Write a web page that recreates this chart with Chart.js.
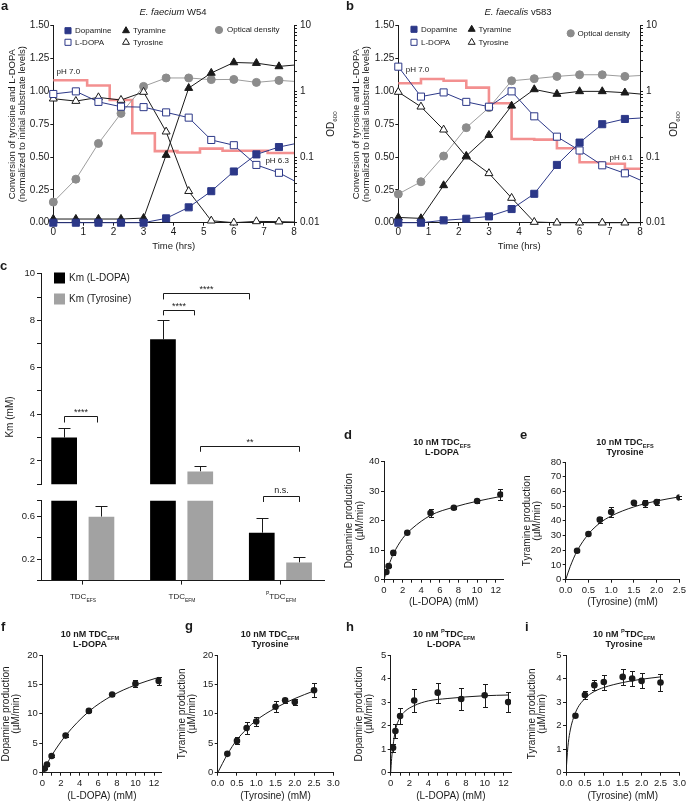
<!DOCTYPE html>
<html>
<head>
<meta charset="utf-8">
<title>TDC activity and kinetics</title>
<script src="https://cdn.jsdelivr.net/npm/chart.js@4.4.1/dist/chart.umd.min.js"></script>
<style>
  html, body { margin: 0; padding: 0; background: #fff; }
  #fig { position: relative; width: 688px; height: 803px; overflow: hidden;
         font-family: 'Liberation Sans', Arial, sans-serif; color: #1a1a1a; }
  .box { position: absolute; }
  .box canvas { display: block; }
  .txt { position: absolute; white-space: nowrap; line-height: 1; transform: translate(-50%, -50%); }
  .up { transform: translate(-50%, -50%) rotate(-90deg); }
  .let { position: absolute; font-weight: bold; font-size: 13px; line-height: 1; }
  .ttl { position: absolute; transform: translateX(-50%); text-align: center; font-weight: bold;
         font-size: 9px; line-height: 10px; white-space: nowrap; }
  sub, sup { font-size: 62%; line-height: 0; }
</style>
</head>
<body>
<div id="fig"></div>
<script>
const FONT = "'Liberation Sans', Arial, sans-serif";
const INK = '#1a1a1a';
const NAVY = '#2c3888';
const OD_GREY = '#8c8c8c';
const PH_RED = '#f39090';
const BAR_GREY = '#a2a2a2';

Chart.defaults.font.family = FONT;
Chart.defaults.color = INK;
Chart.defaults.animation = false;
Chart.defaults.plugins.legend.display = false;
Chart.defaults.plugins.tooltip.enabled = false;

// ---------- a / b: growth and conversion over time ----------
// last sample (8.25 h) lies past the 8 h axis end and is clipped
const timeHrs = [0, 0.75, 1.5, 2.25, 3, 3.75, 4.5, 5.25, 6, 6.75, 7.5, 8.25];

const dopamineW54 = [0, 0, 0, 0, 0, 0.033, 0.117, 0.24, 0.39, 0.52, 0.576, 0.612];
const ldopaW54 = [0.98, 1.0, 0.92, 0.883, 0.88, 0.84, 0.80, 0.63, 0.59, 0.44, 0.38, 0.29];
const tyramineW54 = [0.028, 0.028, 0.028, 0.028, 0.035, 0.515, 1.025, 1.14, 1.22, 1.215, 1.19, 1.205];
const tyrosineW54 = [0.944, 0.926, 0.954, 0.934, 0.995, 0.693, 0.24, 0.015, 0, 0.01, 0.008, 0.004];
const odW54 = [0.0206, 0.046, 0.161, 0.462, 1.19, 1.60, 1.60, 1.51, 1.52, 1.37, 1.47, 1.395];
const phTimeW54 = [0, 1.125, 1.875, 2.625, 3.375, 4.125, 4.875, 5.625, 7.125, 8];
const phW54 = [7.0, 6.95, 6.81, 6.49, 6.318, 6.305, 6.342, 6.322, 6.30, 6.30];

const dopamineV583 = [0, 0, 0.018, 0.03, 0.048, 0.104, 0.22, 0.44, 0.61, 0.75, 0.79, 0.80];
const ldopaV583 = [1.188, 0.96, 0.992, 0.92, 0.883, 1.0, 0.81, 0.655, 0.55, 0.437, 0.376, 0.30];
const tyramineV583 = [0.04, 0.033, 0.284, 0.508, 0.667, 0.89, 1.015, 0.98, 1.0, 1.0, 0.99, 0.975];
const tyrosineV583 = [0.995, 0.883, 0.708, 0.503, 0.376, 0.188, 0.005, 0, 0, 0, 0, 0];
const odV583 = [0.0273, 0.042, 0.1035, 0.28, 0.564, 1.45, 1.56, 1.69, 1.79, 1.79, 1.69, 1.77];
const phTimeV583 = [0, 0.75, 1.5, 2.25, 3, 3.75, 4.5, 5.25, 6, 6.75, 7.5, 8];
const phV583 = [7.0, 7.045, 7.027, 6.954, 6.789, 6.413, 6.406, 6.315, 6.168, 6.153, 6.10, 6.10];

const convTicks = [0, 0.25, 0.5, 0.75, 1, 1.25, 1.5];
const hourTicks = [0, 1, 2, 3, 4, 5, 6, 7, 8];

// ---------- c: Km values ----------
const strains = ['TDC_EFS', 'TDC_EFM', 'PTDC_EFM'];
const kmLdopa = [3.0, 7.2, 0.45];
const kmLdopaSd = [0.4, 0.8, 0.14];
const kmTyrosine = [0.6, 1.55, 0.17];
const kmTyrosineSd = [0.1, 0.25, 0.047];
const kmHighTicks = [1, 2, 3, 4, 5, 6, 7, 8, 9, 10];
const kmLowTicks = [0, 0.2, 0.4, 0.6, 0.75];

// ---------- d-i: Michaelis-Menten kinetics ----------
const ldopaMM = [0.25, 0.5, 1, 2.5, 5, 7.5, 10, 12.5];
const tyrosineMM = [0.25, 0.5, 0.75, 1, 1.5, 1.75, 2, 2.5];

const efsDopamine = [2.6, 4.6, 9.1, 15.9, 22.6, 24.4, 26.7, 28.9];
const efsDopamineSd = [0.3, 0.4, 0.8, 0.4, 1.2, 0.5, 0.8, 2.0];
const efsDopamineFitX = [0, 0.25, 0.5, 1, 2, 3, 5, 7.5, 10, 12.5];
const efsDopamineFitY = [0, 2.6, 4.8, 8.7, 14.0, 17.3, 21.8, 24.6, 26.6, 28.2];

const efsTyramine = [19.7, 31.1, 40.8, 46.0, 52.3, 51.9, 52.8, 55.8];
const efsTyramineSd = [1.0, 0.8, 2.0, 3.1, 1.3, 2.4, 2.0, 1.0];
const efsTyramineFitX = [0, 0.1, 0.25, 0.5, 0.75, 1, 1.5, 2, 2.5];
const efsTyramineFitY = [0, 9, 19.5, 31, 38.5, 43.3, 49.5, 53.5, 56.3];

const efmDopamine = [0.7, 1.4, 2.83, 6.3, 10.5, 13.3, 15.1, 15.6];
const efmDopamineSd = [0.15, 0.2, 0.2, 0.2, 0.2, 0.2, 0.6, 0.7];
const efmDopamineFitX = [0, 0.25, 0.5, 1, 2.5, 5, 7.5, 10, 12.5];
const efmDopamineFitY = [0, 0.75, 1.5, 2.9, 6.3, 10.4, 13.1, 14.9, 16.2];

const efmTyramine = [3.2, 5.4, 7.6, 8.7, 11.2, 12.3, 12.0, 14.0];
const efmTyramineSd = [0.2, 0.6, 1.0, 0.8, 0.9, 0.4, 0.5, 1.2];
const efmTyramineFitX = [0, 0.25, 0.5, 0.75, 1, 1.5, 2, 2.5];
const efmTyramineFitY = [0, 3.1, 5.6, 7.4, 8.9, 11.0, 12.6, 13.9];

const pefmDopamine = [1.06, 1.77, 2.41, 3.07, 3.4, 3.13, 3.29, 3.0];
const pefmDopamineSd = [0.18, 0.3, 0.32, 0.5, 0.42, 0.48, 0.48, 0.42];
const pefmDopamineFitX = [0, 0.1, 0.25, 0.5, 1, 1.5, 2.5, 4, 6, 8, 10, 12.5];
const pefmDopamineFitY = [0, 0.6, 1.15, 1.8, 2.35, 2.6, 2.85, 3.05, 3.15, 3.22, 3.27, 3.3];

const pefmTyramine = [2.42, 3.3, 3.72, 3.85, 4.07, 4.0, 3.9, 3.83];
const pefmTyramineSd = [0.05, 0.15, 0.22, 0.32, 0.33, 0.3, 0.32, 0.35];
const pefmTyramineFitX = [0, 0.05, 0.1, 0.25, 0.5, 0.75, 1, 1.5, 2, 2.5];
const pefmTyramineFitY = [0, 1.1, 1.7, 2.55, 3.15, 3.45, 3.62, 3.83, 3.97, 4.07];

// ---------- helpers ----------
const fig = document.getElementById('fig');

function makeCanvas(box) {
  const d = document.createElement('div');
  d.className = 'box';
  d.style.cssText = `left:${box.left}px;top:${box.top}px;width:${box.width}px;height:${box.height}px`;
  const c = document.createElement('canvas');
  c.width = box.width; c.height = box.height;
  c.style.width = box.width + 'px'; c.style.height = box.height + 'px';
  d.appendChild(c);
  fig.appendChild(d);
  return c;
}

function addText(html, x, y, cls, size) {
  const el = document.createElement('div');
  el.className = cls;
  el.innerHTML = html;
  el.style.left = x + 'px';
  el.style.top = y + 'px';
  if (size) el.style.fontSize = size + 'px';
  fig.appendChild(el);
}

const xy = (xs, ys) => xs.map((x, i) => ({ x, y: ys[i] }));
const range = (a, b, s) => { const r = []; for (let v = a; v <= b + 1e-9; v += s) r.push(+v.toFixed(4)); return r; };

function axis(o) {
  const s = {
    type: o.type || 'linear',
    position: o.pos,
    min: o.min, max: o.max,
    offset: false,
    grid: { drawOnChartArea: false, drawTicks: true, tickLength: o.tickLen || 3, color: INK, lineWidth: 1, offset: false },
    border: { display: true, color: INK, width: 1 },
    ticks: { color: INK, font: { size: o.font || 10 }, padding: o.tickPad ?? 1, autoSkip: false, maxRotation: 0, minRotation: 0 },
    afterBuildTicks: sc => { sc.ticks = o.ticks.map(v => ({ value: v })); },
    afterFit: sc => { if (sc.isHorizontal()) sc.height = o.size; else sc.width = o.size; },
  };
  if (o.cb) s.ticks.callback = o.cb;
  if (o.title) {
    s.title = { display: true, text: o.title, color: INK,
      font: { size: o.titleSize || 10, lineHeight: o.titleLH || 1.1 }, padding: o.titlePad || 0 };
  }
  return s;
}

// error bars drawn from the dataset's own errors array, in scale units
const errorBars = {
  id: 'errorBars',
  beforeDatasetsDraw(chart) {
    const ctx = chart.ctx, area = chart.chartArea;
    chart.data.datasets.forEach((ds, di) => {
      if (!ds.errors) return;
      const meta = chart.getDatasetMeta(di);
      const ys = chart.scales[meta.yAxisID];
      const slack = ds.errSlack ?? 6;
      ctx.save();
      ctx.beginPath();
      ctx.rect(area.left - 10, area.top - slack, area.right - area.left + 20, area.bottom - area.top + 2 * slack);
      ctx.clip();
      ctx.strokeStyle = INK; ctx.lineWidth = 1;
      meta.data.forEach((el, i) => {
        const v = ds.data[i].y, e = ds.errors[i];
        const top = Math.round(ys.getPixelForValue(v + e)) + 0.5;
        const bot = ds.errUpOnly ? ys.getPixelForValue(v) : Math.round(ys.getPixelForValue(v - e)) + 0.5;
        const x = Math.round(el.x) + 0.5, h = ds.capHalf ?? 2.5;
        ctx.beginPath();
        ctx.moveTo(x, bot); ctx.lineTo(x, top);
        ctx.moveTo(x - h, top); ctx.lineTo(x + h, top);
        if (!ds.errUpOnly) { ctx.moveTo(x - h, bot); ctx.lineTo(x + h, bot); }
        ctx.stroke();
      });
      ctx.restore();
    });
  }
};

function logLabel(v) {
  const l = Math.log10(v);
  if (Math.abs(l - Math.round(l)) > 1e-9) return '';
  return v >= 1 ? String(Math.round(v)) : v.toFixed(-Math.round(l));
}
const odTicks = [];
for (let e = -2; e <= 0; e++) for (let m = 1; m <= 9; m++) odTicks.push(+(m * Math.pow(10, e)).toFixed(4));
odTicks.push(10);

// ---------- panels a and b ----------
function growthPanel(o) {
  const b = o.box, a = o.area;
  const cv = makeCanvas(b);
  const clip = { left: 8, top: 8, right: 0, bottom: 8 };
  const radii = r => timeHrs.map(t => (t > 8 ? 0 : r));
  const series = (label, ys, line, fill, style, r, yAxisID) => ({
    label, data: xy(timeHrs, ys), yAxisID: yAxisID || 'y',
    borderColor: line, borderWidth: 1, pointStyle: style, pointRadius: radii(r),
    pointBackgroundColor: fill, pointBorderColor: line, pointBorderWidth: 1, clip,
  });
  const od = series('Optical density', o.od, '#9d9d9d', OD_GREY, 'circle', 4, 'od');
  od.pointBorderColor = OD_GREY;
  const datasets = [
    series('Dopamine', o.dopamine, NAVY, NAVY, 'rect', 5),
    series('L-DOPA', o.ldopa, NAVY, '#fff', 'rect', 5),
    series('Tyramine', o.tyramine, INK, INK, 'triangle', 4.6),
    series('Tyrosine', o.tyrosine, INK, '#fff', 'triangle', 4.6),
    od,
    { label: 'pH', data: xy(o.phTime, o.ph), yAxisID: 'ph', stepped: true, borderColor: PH_RED,
      borderWidth: 2.6, pointRadius: 0, clip },
  ];
  const deco = {
    id: 'growthDeco',
    afterDraw(chart) {
      const ctx = chart.ctx;
      ctx.save();
      ctx.font = `8px ${FONT}`;
      ctx.textBaseline = 'middle';
      o.legend.forEach(p => {
        const ds = chart.data.datasets[p.ds];
        ctx.fillStyle = ds.pointBackgroundColor;
        ctx.strokeStyle = ds.pointBorderColor;
        ctx.lineWidth = 1;
        Chart.helpers.drawPoint(ctx, { pointStyle: ds.pointStyle, radius: p.r, borderWidth: 1, rotation: 0 }, p.x, p.y);
        ctx.fillStyle = INK;
        ctx.fillText(ds.label, p.tx, p.y);
      });
      o.phLabels.forEach(p => {
        ctx.fillStyle = INK;
        ctx.fillText(p.txt, chart.scales.x.getPixelForValue(p.t), chart.scales.ph.getPixelForValue(p.v));
      });
      ctx.restore();
    }
  };
  new Chart(cv, {
    type: 'line',
    data: { datasets },
    options: {
      responsive: false,
      layout: { padding: { left: 0, top: a.t - b.top, right: 0, bottom: 0 } },
      scales: {
        x: axis({ pos: 'bottom', min: 0, max: 8, ticks: hourTicks, size: b.top + b.height - a.b,
          cb: v => String(v), title: 'Time (hrs)', titleSize: 9.5, titlePad: { top: 0, bottom: 10.5 } }),
        y: axis({ pos: 'left', min: 0, max: 1.5, ticks: convTicks, size: a.l - b.left, cb: v => v.toFixed(2),
          title: ['Conversion of tyrosine and L-DOPA', '(normalized to initial substrate levels)'],
          titleSize: 9.5, titleLH: 1.08, titlePad: { top: 7, bottom: 0 } }),
        od: axis({ type: 'logarithmic', pos: 'right', min: 0.01, max: 10, ticks: odTicks,
          size: b.left + b.width - a.r, cb: logLabel, tickPad: 3 }),
        ph: { type: 'linear', display: false, min: o.phMin, max: o.phMax },
      },
    },
    plugins: [deco],
  });
}

growthPanel({
  box: { left: 0, top: 0, width: 344, height: 262 },
  area: { l: 53.3, t: 25.7, r: 294, b: 222.7 },
  dopamine: dopamineW54, ldopa: ldopaW54, tyramine: tyramineW54, tyrosine: tyrosineW54, od: odW54,
  phTime: phTimeW54, ph: phW54, phMin: 5.629, phMax: 7.526,
  legend: [
    { ds: 0, x: 68, y: 30.7, tx: 75, r: 4.3 }, { ds: 1, x: 68, y: 42.3, tx: 75, r: 4.3 },
    { ds: 2, x: 126, y: 30.7, tx: 133, r: 4 }, { ds: 3, x: 126, y: 42.3, tx: 133, r: 4 },
    { ds: 4, x: 219, y: 30, tx: 227, r: 3.6 },
  ],
  phLabels: [{ txt: 'pH 7.0', t: 0.11, v: 7.083 }, { txt: 'pH 6.3', t: 7.05, v: 6.226 }],
});

growthPanel({
  box: { left: 344, top: 0, width: 344, height: 262 },
  area: { l: 398.3, t: 25.7, r: 640, b: 222.7 },
  dopamine: dopamineV583, ldopa: ldopaV583, tyramine: tyramineV583, tyrosine: tyrosineV583, od: odV583,
  phTime: phTimeV583, ph: phV583, phMin: 5.531, phMax: 7.607,
  legend: [
    { ds: 0, x: 70, y: 29.3, tx: 77, r: 4.3 }, { ds: 1, x: 70, y: 42.3, tx: 77, r: 4.3 },
    { ds: 2, x: 127.7, y: 29.3, tx: 134.5, r: 4 }, { ds: 3, x: 127.7, y: 42.3, tx: 134.5, r: 4 },
    { ds: 4, x: 226.7, y: 33.3, tx: 233.5, r: 3.6 },
  ],
  phLabels: [{ txt: 'pH 7.0', t: 0.245, v: 7.147 }, { txt: 'pH 6.1', t: 6.99, v: 6.21 }],
});

// ---------- panel c (broken y axis: two stacked charts) ----------
const groupPos = strains.map((_, i) => i);
const barSet = (label, vals, sd, color) => ({
  label, data: xy(groupPos, vals), backgroundColor: color, borderWidth: 0,
  errors: sd, errUpOnly: true, capHalf: 6, errSlack: 0,
  categoryPercentage: 0.755, barPercentage: 0.689,
});
const kmBars = () => [
  barSet('Km (L-DOPA)', kmLdopa, kmLdopaSd, '#000'),
  barSet('Km (Tyrosine)', kmTyrosine, kmTyrosineSd, BAR_GREY),
];

function bracketPlugin(list) {
  return {
    id: 'brackets',
    afterDatasetsDraw(chart) {
      const ctx = chart.ctx, ys = chart.scales.y;
      ctx.save();
      ctx.strokeStyle = INK; ctx.fillStyle = INK; ctx.lineWidth = 1;
      list.forEach(bk => {
        const xa = Math.round(chart.getDatasetMeta(bk.from[0]).data[bk.from[1]].x + bk.from[2]) + 0.5;
        const xb = Math.round(chart.getDatasetMeta(bk.to[0]).data[bk.to[1]].x + bk.to[2]) + 0.5;
        const yt = Math.round(ys.getPixelForValue(bk.y)) + 0.5;
        const yl = ys.getPixelForValue(bk.leg);
        ctx.beginPath();
        ctx.moveTo(xa, yl); ctx.lineTo(xa, yt); ctx.lineTo(xb, yt); ctx.lineTo(xb, yl);
        ctx.stroke();
        ctx.font = `${bk.size}px ${FONT}`;
        ctx.textAlign = 'center'; ctx.textBaseline = 'bottom';
        ctx.fillText(bk.txt, (xa + xb) / 2, yt - bk.lift);
      });
      ctx.restore();
    }
  };
}

const cX = { min: -0.423, max: 2.441 };
{
  const b = { left: 0, top: 262, width: 344, height: 230 };
  const a = { l: 41, t: 273.7, r: 324, b: 486.6 };
  const legend = {
    id: 'kmLegend',
    afterDraw(chart) {
      const ctx = chart.ctx;
      ctx.save();
      ctx.font = `10px ${FONT}`; ctx.textBaseline = 'middle'; ctx.fillStyle = INK;
      chart.data.datasets.forEach((ds, i) => {
        const cy = 16 + i * 21;
        ctx.fillStyle = ds.backgroundColor;
        ctx.fillRect(54, cy - 5.5, 11, 11);
        ctx.fillStyle = INK;
        ctx.fillText(ds.label, 69, cy);
      });
      ctx.restore();
    }
  };
  new Chart(makeCanvas(b), {
    type: 'bar',
    data: { datasets: kmBars() },
    options: {
      responsive: false,
      layout: { padding: { left: 0, top: a.t - b.top, right: b.left + b.width - a.r, bottom: b.top + b.height - a.b } },
      scales: {
        x: { type: 'linear', display: false, min: cX.min, max: cX.max, offset: false,
          grid: { offset: false }, afterBuildTicks: sc => { sc.ticks = groupPos.map(v => ({ value: v })); } },
        y: axis({ pos: 'left', min: 1, max: 10, ticks: kmHighTicks, size: a.l - b.left, font: 9.5,
          tickLen: 4, tickPad: 2, cb: v => (v % 2 === 0 ? String(v) : '') }),
      },
    },
    plugins: [errorBars, legend, bracketPlugin([
      { from: [0, 0, 0], to: [1, 0, -4], y: 3.92, leg: 3.64, txt: '****', size: 9, lift: -1 },
      { from: [0, 1, 0], to: [1, 1, -6], y: 8.47, leg: 8.22, txt: '****', size: 9, lift: -1 },
      { from: [0, 1, 0], to: [0, 2, -13], y: 9.18, leg: 8.9, txt: '****', size: 9, lift: -1 },
      { from: [1, 1, 0], to: [1, 2, 0], y: 2.65, leg: 2.39, txt: '**', size: 9, lift: -1 },
    ])],
  });
}
{
  // starts a little above the axis break so the n.s. bracket fits; overlaps the upper canvas
  const b = { left: 0, top: 484, width: 344, height: 126 };
  const a = { l: 41, t: 500.7, r: 324, b: 580.6 };
  new Chart(makeCanvas(b), {
    type: 'bar',
    data: { datasets: kmBars() },
    options: {
      responsive: false,
      layout: { padding: { left: 0, top: a.t - b.top, right: b.left + b.width - a.r, bottom: 0 } },
      scales: {
        x: axis({ pos: 'bottom', min: cX.min, max: cX.max, ticks: groupPos, size: b.top + b.height - a.b,
          tickLen: 4, cb: () => '' }),
        y: axis({ pos: 'left', min: 0, max: 0.75, ticks: kmLowTicks, size: a.l - b.left, font: 9.5,
          tickLen: 4, tickPad: 2, cb: v => (v === 0.2 || v === 0.6 ? v.toFixed(1) : '') }),
      },
    },
    plugins: [errorBars, bracketPlugin([
      { from: [0, 2, 1], to: [1, 2, 0], y: 0.794, leg: 0.738, txt: 'n.s.', size: 9, lift: 1.5 },
    ])],
  });
}

// ---------- panels d-i ----------
function kineticsPanel(o) {
  const b = o.box, a = o.area;
  new Chart(makeCanvas(b), {
    type: 'scatter',
    data: {
      datasets: [
        { data: xy(o.x, o.y), errors: o.sd, pointRadius: 3.3, pointBackgroundColor: INK,
          pointBorderColor: INK, pointBorderWidth: 0, capHalf: 2.5 },
        { data: xy(o.fitX, o.fitY), showLine: true, pointRadius: 0, borderColor: INK, borderWidth: 1,
          cubicInterpolationMode: 'monotone', fill: false },
      ],
    },
    options: {
      responsive: false,
      layout: { padding: { left: 0, top: a.t - b.top, right: b.left + b.width - a.r, bottom: 0 } },
      scales: {
        x: axis({ pos: 'bottom', min: 0, max: o.xmax, ticks: o.xticks, cb: o.xcb, size: b.top + b.height - a.b,
          font: 9.5, tickPad: 2, title: o.xtitle, titlePad: { top: 0, bottom: o.xtPad } }),
        y: axis({ pos: 'left', min: 0, max: o.ymax, ticks: o.yticks, cb: v => String(v), size: a.l - b.left,
          font: 9.5, tickPad: 1.5, title: o.ytitle, titleLH: 1.05, titlePad: { top: o.ytPad, bottom: 0 } }),
      },
    },
    plugins: [errorBars],
  });
}

const evenLabel = v => (v % 2 === 0 ? String(v) : '');
const oneDec = v => v.toFixed(1);
const dopaTitle = ['Dopamine production', '(\u00b5M/min)'];
const tyraTitle = ['Tyramine production', '(\u00b5M/min)'];

kineticsPanel({
  box: { left: 344, top: 425, width: 172, height: 185 }, area: { l: 384, t: 461.7, r: 503.2, b: 579.7 },
  x: ldopaMM, y: efsDopamine, sd: efsDopamineSd, fitX: efsDopamineFitX, fitY: efsDopamineFitY,
  xmax: 12.8, xticks: range(0, 12, 1), xcb: evenLabel, ymax: 40, yticks: range(0, 40, 10),
  xtitle: '(L-DOPA) (mM)', xtPad: 2.2, ytitle: dopaTitle, ytPad: 0,
});
kineticsPanel({
  box: { left: 516, top: 425, width: 172, height: 185 }, area: { l: 565.7, t: 462, r: 680.7, b: 579.7 },
  x: tyrosineMM, y: efsTyramine, sd: efsTyramineSd, fitX: efsTyramineFitX, fitY: efsTyramineFitY,
  xmax: 2.5, xticks: range(0, 2.5, 0.5), xcb: oneDec, ymax: 80, yticks: range(0, 80, 10),
  xtitle: '(Tyrosine) (mM)', xtPad: 2.2, ytitle: tyraTitle, ytPad: 5.5,
});
kineticsPanel({
  box: { left: 0, top: 610, width: 172, height: 193 }, area: { l: 42.3, t: 655, r: 161.5, b: 772.7 },
  x: ldopaMM, y: efmDopamine, sd: efmDopamineSd, fitX: efmDopamineFitX, fitY: efmDopamineFitY,
  xmax: 12.8, xticks: range(0, 12, 1), xcb: evenLabel, ymax: 20, yticks: range(0, 20, 5),
  xtitle: '(L-DOPA) (mM)', xtPad: 0.8, ytitle: dopaTitle, ytPad: 0.5,
});
kineticsPanel({
  box: { left: 172, top: 610, width: 172, height: 193 }, area: { l: 217.7, t: 655, r: 333.3, b: 772.7 },
  x: tyrosineMM, y: efmTyramine, sd: efmTyramineSd, fitX: efmTyramineFitX, fitY: efmTyramineFitY,
  xmax: 3, xticks: range(0, 3, 0.5), xcb: oneDec, ymax: 20, yticks: range(0, 20, 5),
  xtitle: '(Tyrosine) (mM)', xtPad: 0.8, ytitle: tyraTitle, ytPad: 4.5,
});
kineticsPanel({
  box: { left: 344, top: 610, width: 172, height: 193 }, area: { l: 390.7, t: 655, r: 511, b: 772.7 },
  x: ldopaMM, y: pefmDopamine, sd: pefmDopamineSd, fitX: pefmDopamineFitX, fitY: pefmDopamineFitY,
  xmax: 12.8, xticks: range(0, 12, 1), xcb: evenLabel, ymax: 5, yticks: range(0, 5, 1),
  xtitle: '(L-DOPA) (mM)', xtPad: 0.8, ytitle: dopaTitle, ytPad: 9.5,
});
kineticsPanel({
  box: { left: 516, top: 610, width: 172, height: 193 }, area: { l: 566, t: 655, r: 682, b: 772.7 },
  x: tyrosineMM, y: pefmTyramine, sd: pefmTyramineSd, fitX: pefmTyramineFitX, fitY: pefmTyramineFitY,
  xmax: 3, xticks: range(0, 3, 0.5), xcb: oneDec, ymax: 5, yticks: range(0, 5, 1),
  xtitle: '(Tyrosine) (mM)', xtPad: 0.8, ytitle: tyraTitle, ytPad: 10.5,
});

// ---------- text overlays ----------
[['a', 1, -1], ['b', 346, -1], ['c', 0, 259], ['d', 344, 428], ['e', 520, 428],
 ['f', 1, 620], ['g', 185, 619], ['h', 346, 620], ['i', 525, 620]]
  .forEach(([t, x, y]) => addText(t, x, y, 'let'));

addText('<i>E. faecium</i> W54', 173, 12, 'txt', 9.5);
addText('<i>E. faecalis</i> v583', 518, 12, 'txt', 9.5);
addText('OD<sub>600</sub>', 331, 124, 'txt up', 10);
addText('OD<sub>600</sub>', 674, 124, 'txt up', 10);
addText('Km (mM)', 10, 417, 'txt up', 10);

const strainHtml = ['TDC<sub>EFS</sub>', 'TDC<sub>EFM</sub>', '<sup>P</sup>TDC<sub>EFM</sub>'];
[83, 182, 281].forEach((x, i) => addText(strainHtml[i], x, 597, 'txt', 8));

[
  ['10 nM TDC<sub>EFS</sub><br>L-DOPA', 442, 437],
  ['10 nM TDC<sub>EFS</sub><br>Tyrosine', 625, 437],
  ['10 nM TDC<sub>EFM</sub><br>L-DOPA', 90, 629],
  ['10 nM TDC<sub>EFM</sub><br>Tyrosine', 270, 629],
  ['10 nM <sup>P</sup>TDC<sub>EFM</sub><br>L-DOPA', 444, 629],
  ['10 nM <sup>P</sup>TDC<sub>EFM</sub><br>Tyrosine', 624, 629],
].forEach(([h, x, y]) => addText(h, x, y, 'ttl'));
</script>
</body>
</html>
